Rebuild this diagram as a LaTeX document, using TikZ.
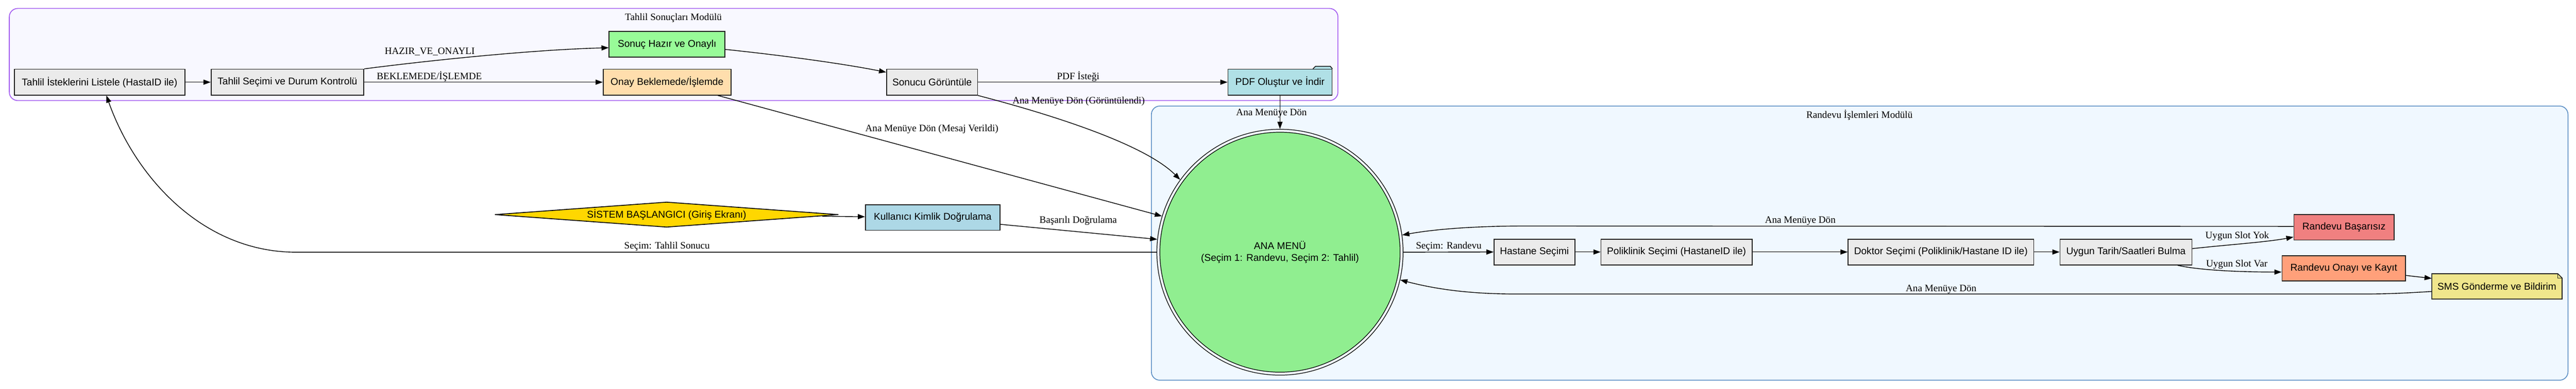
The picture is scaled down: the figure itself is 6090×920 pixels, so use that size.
\documentclass[tikz,border=0pt]{standalone}
\usepackage{fontspec}
\setmainfont{Liberation Serif}
\newfontfamily\arialf{Liberation Sans}
\usetikzlibrary{arrows.meta,calc}
\definecolor{nodegray}{HTML}{EBEBEB}
\definecolor{hazirgreen}{HTML}{98FB98}
\definecolor{onaycol}{HTML}{FFDEAD}
\definecolor{pdfcol}{HTML}{B0E0E6}
\definecolor{kullcol}{HTML}{ADD8E6}
\definecolor{goldcol}{HTML}{FFD700}
\definecolor{menucol}{HTML}{90EE90}
\definecolor{bascol}{HTML}{F08080}
\definecolor{onayicol}{HTML}{FFA07A}
\definecolor{smscol}{HTML}{F0E68C}
\definecolor{clAfill}{HTML}{F8F8FF}
\definecolor{clAdraw}{HTML}{A35CF0}
\definecolor{clBfill}{HTML}{F0F8FF}
\definecolor{clBdraw}{HTML}{5D90C6}
\definecolor{bordercol}{HTML}{222222}
\tikzset{
  boxnode/.style={draw=bordercol, line width=2pt, inner sep=0pt,
    font=\arialf\fontsize{23.3}{28}\selectfont, align=center, minimum height=61pt},
  txtnode/.style={inner sep=0pt, font=\arialf\fontsize{23.3}{28}\selectfont, align=center},
  lbl/.style={inner sep=0pt, anchor=base, font=\fontsize{23.3}{28}\selectfont},
  conn/.style={line width=1.7pt, draw=black, -{Triangle[length=17pt,width=12pt]}},
  clusterA/.style={draw=clAdraw, fill=clAfill, line width=2pt, rounded corners=20pt, inner sep=0pt},
  clusterB/.style={draw=clBdraw, fill=clBfill, line width=2pt, rounded corners=20pt, inner sep=0pt}
}
\begin{document}
\begin{tikzpicture}[x=1pt,y=-1pt]
\useasboundingbox (0,0) rectangle (6090,920);
\fill[white] (0,0) rectangle (6090,920);

% clusters
\node[clusterA, minimum width=3141pt, minimum height=218pt] (modA) at (1592.5,129) {};
\node[clusterB, minimum width=3349pt, minimum height=649pt] (modB) at (4396.5,575.5) {};
\node[lbl] (modAlbl) at (1592,48) {Tahlil Sonuçları Modülü};
\node[lbl] (modBlbl) at (4396,279) {Randevu İşlemleri Modülü};

% top cluster nodes
\node[boxnode, fill=nodegray, minimum width=403pt] (list) at (235.5,194.5) {Tahlil İsteklerini Listele (HastaID ile)};
\node[boxnode, fill=nodegray, minimum width=361pt] (secim) at (679.5,194.5) {Tahlil Seçimi ve Durum Kontrolü};
\node[boxnode, fill=hazirgreen, minimum width=274pt] (hazir) at (1577,105) {Sonuç Hazır ve Onaylı};
\node[boxnode, fill=onaycol, minimum width=302pt] (onay) at (1577,194.5) {Onay Beklemede/İşlemde};
\node[boxnode, fill=nodegray, minimum width=215pt] (sonucu) at (2203.5,194.5) {Sonucu Görüntüle};
\node[boxnode, fill=pdfcol, minimum width=246pt] (pdf) at (3026,194.5) {PDF Oluştur ve İndir};
\draw[fill=pdfcol, draw=bordercol, line width=2pt, line join=round]
  ($(pdf.north east)+(-46,0)$) -- ($(pdf.north east)+(-40,-6)$) -- ($(pdf.north east)+(-5,-6)$) -- (pdf.north east);

% start diamond
\draw[fill=goldcol, draw=black, line width=2pt] (1170,508) -- (1576,478.5) -- (1982,508) -- (1576,537.5) -- cycle;
\node[txtnode, minimum width=812pt, minimum height=59pt] (start) at (1576,508) {SİSTEM BAŞLANGICI (Giriş Ekranı)};
\node[boxnode, fill=kullcol, minimum width=318pt, minimum height=60pt] (kull) at (2205,515) {Kullanıcı Kimlik Doğrulama};

% main menu
\node[circle, fill=menucol, draw=black, line width=1.5pt, minimum size=568pt, inner sep=0pt] (menuin) at (3026,597) {};
\node[circle, draw=black, line width=1.5pt, minimum size=582pt, inner sep=0pt, align=center,
  font=\arialf\fontsize{23.3}{27.5}\selectfont] (menu) at (3026,597) {ANA MENÜ\\(Seçim 1: Randevu, Seçim 2: Tahlil)};

% randevu nodes
\node[boxnode, fill=nodegray, minimum width=191pt] (hast) at (3627.5,596.5) {Hastane Seçimi};
\node[boxnode, fill=nodegray, minimum width=357pt] (polik) at (3963.5,596.5) {Poliklinik Seçimi (HastaneID ile)};
\node[boxnode, fill=nodegray, minimum width=439pt] (dok) at (4588.5,596.5) {Doktor Seçimi (Poliklinik/Hastane ID ile)};
\node[boxnode, fill=nodegray, minimum width=312pt] (uygun) at (5026,596.5) {Uygun Tarih/Saatleri Bulma};
\node[boxnode, fill=bascol, minimum width=237pt, minimum height=60pt] (bas) at (5541.5,538) {Randevu Başarısız};
\node[boxnode, fill=onayicol, minimum width=292pt, minimum height=60pt] (onayi) at (5541,635) {Randevu Onayı ve Kayıt};
\path[fill=smscol, draw=bordercol, line width=2pt, line join=miter] (5749,648) -- (6047,648) -- (6057,658) -- (6057,708) -- (5749,708) -- cycle;
\draw[draw=bordercol, line width=1pt] (6047,648) -- (6047,658) -- (6057,658);
\node[txtnode, minimum width=308pt, minimum height=60pt] (sms) at (5903,678) {SMS Gönderme ve Bildirim};

% edges top cluster
\draw[conn] (list.east) -- (secim.west);
\draw[conn] (secim.north east) .. controls (1000,145) and (1250,118) .. ($(hazir.west)+(0,8)$);
\draw[conn] (secim.east) -- (onay.west);
\draw[conn] ($(hazir.east)+(0,12)$) .. controls (1840,130) and (1990,150) .. ($(sonucu.north west)+(0,8)$);
\draw[conn] (sonucu.east) -- (pdf.west);
\draw[conn] (pdf.south) -- (menu.north);
\draw[conn] ($(onay.south)+(120,0)$) -- (menu.163);
\draw[conn] (sonucu.south east) .. controls (2450,262) and (2700,335) .. (menu.144);

% tahlil return
\draw[conn] (menu.west) -- (700,597) .. controls (480,597) and (320,420) .. ($(list.south)+(16,0)$);

% start
\draw[conn] ($(start.center)+(368,4)$) -- ($(kull.west)+(0,-2)$);
\draw[conn] ($(kull.east)+(0,16)$) -- (menu.174);

% randevu chain
\draw[conn] (menu.east) -- (hast.west);
\draw[conn] (hast.east) -- (polik.west);
\draw[conn] (polik.east) -- (dok.west);
\draw[conn] (dok.east) -- (uygun.west);
\draw[conn] ($(uygun.east)+(0,-8)$) .. controls (5270,579) and (5360,573) .. ($(bas.west)+(0,23)$);
\draw[conn] ($(uygun.south)+(122,0)$) .. controls (5200,640) and (5300,644) .. ($(onayi.west)+(0,9)$);
\draw[conn] ($(onayi.east)+(0,17)$) -- ($(sms.west)+(0,-19)$);
\draw[conn] ($(bas.west)+(0,-2)$) -- (3606,535) .. controls (3500,535) and (3400,541) .. (menu.8.7);
\draw[conn] ($(sms.west)+(0,12)$) .. controls (5650,696) and (5620,696) .. (5560,696) -- (3590,696) .. controls (3480,696) and (3400,686) .. (menu.-13.6);

% edge labels
\node[lbl] (l1) at (1016,128) {HAZIR\_VE\_ONAYLI};
\node[lbl] (l2) at (1015,188) {BEKLEMEDE/İŞLEMDE};
\node[lbl] (l3) at (2549,188) {PDF İsteği};
\node[lbl] (l4) at (2550,246) {Ana Menüye Dön (Görüntülendi)};
\node[lbl] (l5) at (3006,273) {Ana Menüye Dön};
\node[lbl] (l6) at (2203,311) {Ana Menüye Dön (Mesaj Verildi)};
\node[lbl] (l7) at (2549,528) {Başarılı Doğrulama};
\node[lbl] (l8) at (1577,589) {Seçim: Tahlil Sonucu};
\node[lbl] (l9) at (3425,589) {Seçim: Randevu};
\node[lbl] (l10) at (4256,528) {Ana Menüye Dön};
\node[lbl] (l11) at (4589,690) {Ana Menüye Dön};
\node[lbl] (l12) at (5289,564) {Uygun Slot Yok};
\node[lbl] (l13) at (5288,631) {Uygun Slot Var};
\end{tikzpicture}
\end{document}
